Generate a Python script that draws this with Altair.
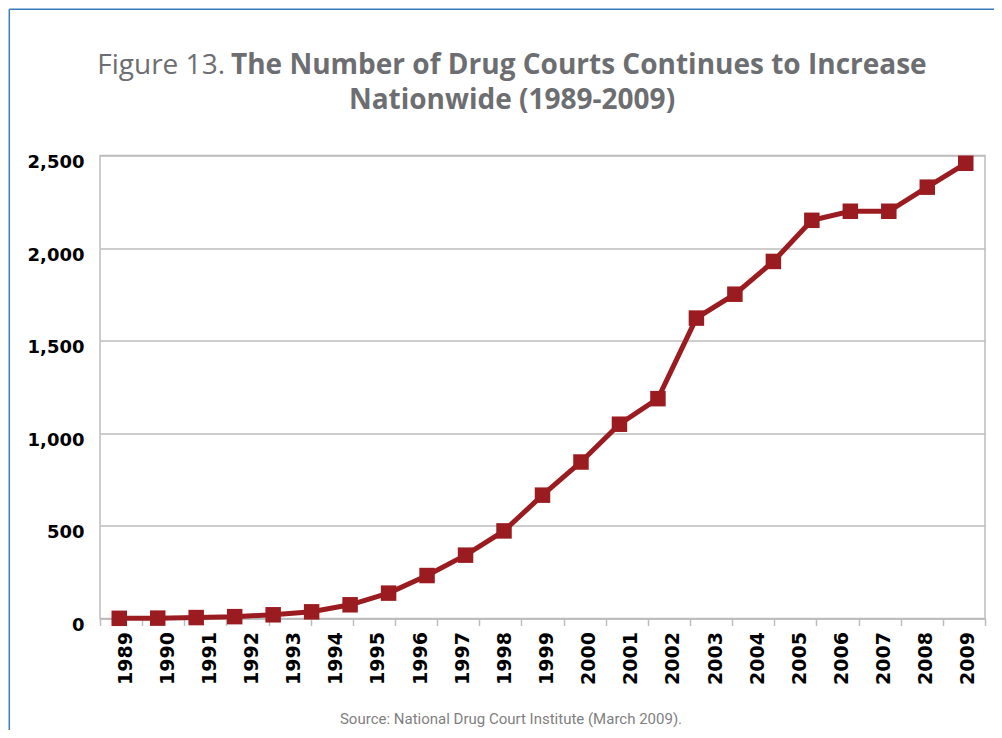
import altair as alt
import pandas as pd

# ---------------- data ----------------
years = ["1989", "1990", "1991", "1992", "1993", "1994", "1995", "1996", "1997",
         "1998", "1999", "2000", "2001", "2002", "2003", "2004", "2005", "2006",
         "2007", "2008", "2009"]
# the plotted series has 23 markers spread across the 21 labelled year slots
point_order = [1, 2, 3, 4, 5, 6, 7, 8, 9, 10, 11, 12, 13, 14, 15, 16, 17, 18,
               19, 20, 21, 22, 23]
courts = [1, 2, 5, 10, 20, 36, 74, 137, 232, 342, 473, 666, 845, 1049, 1187,
          1622, 1751, 1928, 2150, 2199, 2199, 2329, 2458]
y_ticks = [0, 500, 1000, 1500, 2000, 2500]

title_prefix = "Figure 13."
title_line1 = "The Number of Drug Courts Continues to Increase"
title_line2 = "Nationwide (1989-2009)"
source_note = "Source: National Drug Court Institute (March 2009)."

# ---------------- style ----------------
RED = "#9b1c20"
GRAY_TEXT = "#6d6e71"
GRID = "#bdbdbd"
FRAME = "#3b7bbf"
LABEL_FONT = "DejaVu Sans"
TITLE_FONT = "Open Sans"
SOURCE_FONT = "Roboto"

W, H = 885, 463

pts = pd.DataFrame({"pt": point_order, "courts": courts})
yr = pd.DataFrame({"year": years})

x_pts = alt.X("pt:O", scale=alt.Scale(type="point", padding=0.5), axis=None)
y_enc = alt.Y(
    "courts:Q",
    scale=alt.Scale(domain=[0, 2500], nice=False),
    axis=alt.Axis(values=y_ticks, format=",d", title=None, domain=False,
                  ticks=False, grid=True, gridColor=GRID, gridWidth=1.5,
                  labelFont=LABEL_FONT, labelFontSize=18, labelFontWeight="bold",
                  labelColor="black", labelPadding=16, labelOffset=7),
)

line = alt.Chart(pts).mark_line(color=RED, strokeWidth=5).encode(x=x_pts, y=y_enc)
squares = alt.Chart(pts).mark_square(color=RED, size=240, opacity=1).encode(
    x=x_pts, y="courts:Q")

year_axis = alt.Chart(yr).mark_point(opacity=0).encode(
    x=alt.X("year:O", sort=years,
            scale=alt.Scale(type="band", paddingInner=0, paddingOuter=0),
            axis=alt.Axis(orient="bottom", title=None, labelAngle=270,
                          tickBand="extent", tickSize=7, tickColor=GRID,
                          tickWidth=1.5, domainColor=GRID, domainWidth=1.5,
                          labelFont=LABEL_FONT, labelFontSize=19,
                          labelFontWeight="bold", labelColor="black",
                          labelPadding=6, labelOffset=4, grid=False))
)


def text_layer(txt, x, y, align, weight, size, font, color):
    return alt.Chart(pd.DataFrame({"t": [txt]})).mark_text(
        align=align, baseline="alphabetic", fontWeight=weight, fontSize=size,
        font=font, color=color
    ).encode(text="t:N", x=alt.value(x), y=alt.value(y))


t_prefix = text_layer(title_prefix, 125, -82, "right", "normal", 28, TITLE_FONT, GRAY_TEXT)
t_line1 = text_layer(title_line1, 131, -82, "left", "bold", 28, TITLE_FONT, GRAY_TEXT)
t_line2 = text_layer(title_line2, 412, -47, "center", "bold", 28, TITLE_FONT, GRAY_TEXT)
t_source = text_layer(source_note, 411, 568, "center", "normal", 15, SOURCE_FONT, "#7f7f7f")

frame_left = alt.Chart(pd.DataFrame({"a": [0]})).mark_rule(color=FRAME, strokeWidth=1.5).encode(
    x=alt.value(-90.7), y=alt.value(-146.2), y2=alt.value(H + 112))
frame_top = alt.Chart(pd.DataFrame({"a": [0]})).mark_rule(color=FRAME, strokeWidth=1.5).encode(
    x=alt.value(-90.7), x2=alt.value(W + 10), y=alt.value(-146.2))

chart = alt.layer(
    line, squares, year_axis, t_prefix, t_line1, t_line2, t_source, frame_left, frame_top
).resolve_scale(x="independent").properties(
    width=W, height=H,
    autosize=alt.AutoSizeParams(type="none"),
    padding={"left": 92, "top": 147.5, "right": 9, "bottom": 111.5},
    background="white",
).configure_view(stroke=GRID, strokeWidth=1.5)

chart.save("out.html", embed_options={"renderer": "svg", "actions": False})
